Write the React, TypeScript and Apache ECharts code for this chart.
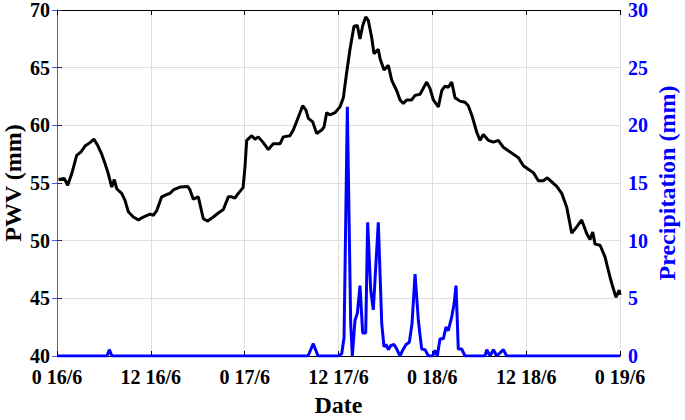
import React, { useEffect, useRef } from "react";
import * as echarts from "echarts";

// Hours since 0h 16/6
const pwvHours = [
  0.2, 0.93, 1.37, 1.88, 2.52, 3.07, 3.58, 4.22, 4.73, 5.21, 5.72, 6.14, 6.56, 7.0, 7.33, 7.64,
  8.27, 8.7, 9.12, 9.76, 10.4, 11.04, 11.89, 12.32, 12.75, 13.39, 14.03, 14.45, 14.87, 15.73,
  16.72, 17.01, 17.43, 18.07, 18.71, 19.27, 19.99, 20.63, 21.27, 21.91, 22.34, 22.76, 23.19,
  23.8, 24.04, 24.26, 24.9, 25.32, 25.74, 26.38, 27.02, 27.66, 28.52, 28.94, 29.8, 30.22, 30.86,
  31.42, 31.85, 32.14, 32.7, 33.21, 33.85, 34.15, 34.49, 34.91, 35.55, 36.19, 36.62, 37.05,
  37.47, 37.98, 38.41, 38.75, 39.1, 39.48, 39.81, 40.25, 40.54, 41.09, 41.31, 41.82, 42.37,
  42.81, 43.45, 43.87, 44.29, 44.72, 45.36, 45.79, 46.43, 47.28, 47.7, 48.13, 48.77, 49.2,
  49.62, 50.04, 50.48, 50.9, 51.54, 52.18, 52.6, 53.04, 53.68, 54.1, 54.52, 55.16, 55.8, 56.44,
  57.08, 57.72, 58.36, 59.0, 59.64, 60.28, 60.92, 61.56, 62.2, 62.71, 63.27, 63.91, 64.55,
  65.19, 65.83, 66.47, 67.1, 67.75, 68.17, 68.51, 68.81, 69.45, 70.08, 70.72, 71.07, 71.49,
  71.91, 72.0,
];
const pwvValues = [
  55.3, 55.4, 54.8, 55.8, 57.4, 57.7, 58.2, 58.5, 58.8, 58.25, 57.5, 56.7, 55.8, 54.65, 55.3, 54.5,
  54.1, 53.5, 52.5, 52.05, 51.8, 52.05, 52.3, 52.2, 52.6, 53.8, 54.0, 54.1, 54.4, 54.65,
  54.7, 54.4, 53.6, 53.8, 51.9, 51.7, 52.05, 52.4, 52.7, 53.8, 53.8, 53.7, 54.1,
  54.6, 56.4, 58.7, 59.1, 58.8, 59.0, 58.5, 57.9, 58.4, 58.4, 59.0, 59.1, 59.6, 60.7,
  61.7, 61.3, 60.6, 60.3, 59.3, 59.6, 59.85, 61.1, 60.9, 61.1, 61.6, 62.4, 64.6,
  66.6, 68.6, 68.65, 67.5, 68.65, 69.4, 69.1, 67.6, 66.2, 66.6, 65.8, 64.8, 65.2,
  63.9, 63.0, 62.2, 61.9, 62.2, 62.2, 62.6, 62.7, 63.75, 63.2, 62.2, 61.6, 63.0,
  63.4, 63.3, 63.75, 62.4, 62.1, 62.0, 61.7, 60.9, 59.4, 58.7, 59.2, 58.7, 58.55, 58.7,
  58.1, 57.8, 57.5, 57.2, 56.5, 56.2, 55.9, 55.2, 55.2, 55.45, 55.1, 54.7, 54.1,
  52.9, 50.65, 51.2, 51.8, 50.6, 50.1, 50.75, 49.7, 49.6, 48.6, 46.85, 46.0, 45.1,
  45.7, 45.3,
];

const precipHours = [
  0, 6.39, 6.69, 7.03, 32.1, 32.78, 33.38, 35.98, 36.41, 36.71, 37.13, 37.56, 37.77, 38.11,
  38.41, 38.75, 39.09, 39.48, 39.73, 40.12, 40.45, 41.09, 41.53, 41.82, 42.08, 42.37, 42.68,
  43.1, 43.45, 43.87, 44.21, 44.64, 45.06, 45.4, 45.79, 46.21, 46.64, 47.07, 47.49, 48.05,
  48.34, 48.64, 48.98, 49.41, 49.75, 50.04, 50.48, 50.78, 51.03, 51.32, 51.76, 52.18, 54.74,
  54.96, 55.38, 55.81, 56.24, 57.08, 57.51, 72,
];
const precipValues = [
  0, 0, 0.55, 0, 0, 1.07, 0, 0, 0.2, 1.6, 21.6, 2.8, 0, 3.1,
  3.7, 6.1, 2.0, 2.0, 11.6, 5.7, 4.0, 11.6, 2.8, 0.8, 1.0, 0.55, 0.9,
  1.0, 0.6, 0, 0.5, 1.0, 1.2, 2.8, 7.1, 3.1, 0.6, 0.55, 0, 0,
  0.5, 0, 1.5, 1.5, 2.5, 2.2, 3.4, 4.5, 6.1, 0.6, 0.6, 0, 0,
  0.55, 0, 0.55, 0, 0.55, 0, 0,
];

const xTickLabels = ["0 16/6", "12 16/6", "0 17/6", "12 17/6", "0 18/6", "12 18/6", "0 19/6"];

const FONT = "'Liberation Serif', 'Times New Roman', serif";
const BLUE = "#0000ff";

export default function App() {
  const ref = useRef<HTMLDivElement>(null);
  useEffect(() => {
    if (!ref.current) return;
    const chart = echarts.init(ref.current, null, { renderer: "svg" });
    const pwvData = pwvHours.map((h, i) => [h, pwvValues[i]]);
    const precipData = precipHours.map((h, i) => [h, precipValues[i]]);
    chart.setOption({
      animation: false,
      backgroundColor: "#ffffff",
      grid: {
        left: 57,
        right: 65,
        top: 10,
        bottom: 64,
        containLabel: false,
        outerBoundsMode: "none",
      },
      xAxis: [
        {
          type: "value",
          min: 0,
          max: 72,
          interval: 12,
          position: "bottom",
          name: "Date",
          nameLocation: "middle",
          nameGap: 37,
          nameMoveOverlap: false,
          nameTextStyle: { fontFamily: FONT, fontWeight: "bold", fontSize: 24, color: "#000" },
          axisLine: { show: true, lineStyle: { color: "#000", width: 1 } },
          axisTick: { show: true, inside: true, length: 5, lineStyle: { color: "#000" } },
          axisLabel: {
            fontFamily: FONT,
            fontWeight: "bold",
            fontSize: 20,
            lineHeight: 20,
            color: "#000",
            margin: 11,
            showMinLabel: true,
            showMaxLabel: true,
            hideOverlap: false,
            formatter: (v: number) => xTickLabels[Math.round(v / 12)] ?? "",
          },
          splitLine: { show: true, lineStyle: { color: "#dedede", width: 1 } },
        },
        {
          type: "value",
          min: 0,
          max: 72,
          interval: 12,
          position: "top",
          axisLine: { show: true, lineStyle: { color: "#000", width: 1 } },
          axisTick: { show: true, inside: true, length: 5, lineStyle: { color: "#000" } },
          axisLabel: { show: false },
          splitLine: { show: false },
        },
      ],
      yAxis: [
        {
          type: "value",
          min: 40,
          max: 70,
          interval: 5,
          position: "left",
          name: "PWV (mm)",
          nameLocation: "middle",
          nameRotate: 90,
          nameGap: 32,
          nameMoveOverlap: false,
          nameTextStyle: {
            fontFamily: FONT,
            fontWeight: "bold",
            fontSize: 24,
            lineHeight: 24,
            color: "#000",
          },
          axisLine: { show: true, lineStyle: { color: "#333", width: 1 } },
          axisTick: { show: true, inside: true, length: 5, lineStyle: { color: "#333" } },
          axisLabel: {
            fontFamily: FONT,
            fontWeight: "bold",
            fontSize: 20,
            lineHeight: 18,
            color: "#000",
            margin: 7,
          },
          splitLine: { show: true, lineStyle: { color: "#dedede", width: 1 } },
        },
        {
          type: "value",
          min: 0,
          max: 30,
          interval: 5,
          position: "right",
          name: "Precipitation (mm)",
          nameLocation: "middle",
          nameRotate: 90,
          nameGap: 35,
          nameMoveOverlap: false,
          nameTextStyle: {
            fontFamily: FONT,
            fontWeight: "bold",
            fontSize: 24,
            lineHeight: 24,
            color: BLUE,
          },
          axisLine: { show: true, lineStyle: { color: "#5555ff", width: 1 } },
          axisTick: { show: true, inside: true, length: 5, lineStyle: { color: "#5555ff" } },
          axisLabel: {
            fontFamily: FONT,
            fontWeight: "bold",
            fontSize: 20,
            lineHeight: 18,
            color: BLUE,
            margin: 8,
          },
          splitLine: { show: false },
        },
      ],
      series: [
        {
          name: "PWV",
          type: "line",
          xAxisIndex: 0,
          yAxisIndex: 0,
          data: pwvData,
          showSymbol: false,
          lineStyle: { color: "#000", width: 3 },
          itemStyle: { color: "#000" },
          z: 2,
        },
        {
          name: "Precipitation",
          type: "line",
          xAxisIndex: 0,
          yAxisIndex: 1,
          data: precipData,
          showSymbol: false,
          lineStyle: { color: BLUE, width: 3 },
          itemStyle: { color: BLUE },
          z: 3,
        },
      ],
    });
    return () => chart.dispose();
  }, []);
  return (
    <div
      ref={ref}
      style={{ position: "fixed", left: 0, top: 0, width: 685, height: 420, background: "#fff" }}
    />
  );
}
